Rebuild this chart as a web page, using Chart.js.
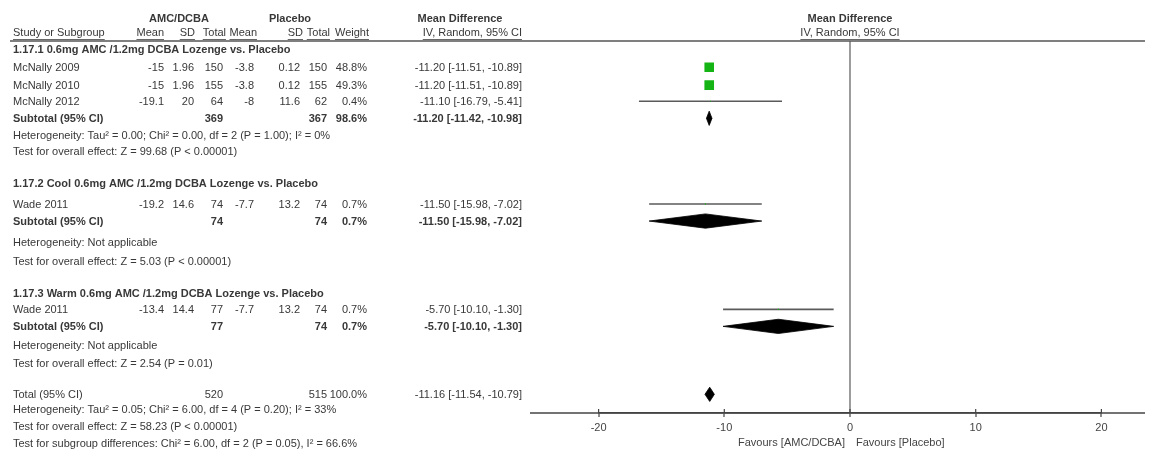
<!DOCTYPE html>
<html><head><meta charset="utf-8">
<script src="https://cdn.jsdelivr.net/npm/chart.js@4/dist/chart.umd.min.js"></script>
<style>html,body{margin:0;padding:0;background:#fff;}#wrap{width:1156px;height:459px;position:relative;}</style>
</head><body><div id="wrap"><canvas id="c" width="1156" height="459"></canvas></div>
<script>
// ---- data ----
const studyNames = ["McNally 2009", "McNally 2010", "McNally 2012", "Wade 2011", "Wade 2011"];
const amcMean = [-15, -15, -19.1, -19.2, -13.4];
const amcSD = [1.96, 1.96, 20, 14.6, 14.4];
const amcN = [150, 155, 64, 74, 77];
const plaMean = [-3.8, -3.8, -8, -7.7, -7.7];
const plaSD = [0.12, 0.12, 11.6, 13.2, 13.2];
const plaN = [150, 155, 62, 74, 74];
const studyWeight = [48.8, 49.3, 0.4, 0.7, 0.7];
const studyMD = [-11.20, -11.20, -11.10, -11.50, -5.70];
const studyLo = [-11.51, -11.51, -16.79, -15.98, -10.10];
const studyHi = [-10.89, -10.89, -5.41, -7.02, -1.30];
const studyRow = [1.55, 2.6, 3.55, 9.6, 15.8];

const pooledNames = ["Subtotal (95% CI)", "Subtotal (95% CI)", "Subtotal (95% CI)", "Total (95% CI)"];
const pooledAmcN = [369, 74, 77, 520];
const pooledPlaN = [367, 74, 74, 515];
const pooledWeight = [98.6, 0.7, 0.7, 100.0];
const pooledMD = [-11.20, -11.50, -5.70, -11.16];
const pooledLo = [-11.42, -15.98, -10.10, -11.54];
const pooledHi = [-10.98, -7.02, -1.30, -10.79];
const pooledRow = [4.55, 10.6, 16.8, 20.8];
const pooledBold = [true, true, true, false];

const groupTitles = ["1.17.1 0.6mg AMC /1.2mg DCBA Lozenge vs. Placebo",
  "1.17.2 Cool 0.6mg AMC /1.2mg DCBA Lozenge vs. Placebo",
  "1.17.3 Warm 0.6mg AMC /1.2mg DCBA Lozenge vs. Placebo"];
const groupRow = [0.55, 8.4, 14.9];

const notes = ["Heterogeneity: Tau\u00b2 = 0.00; Chi\u00b2 = 0.00, df = 2 (P = 1.00); I\u00b2 = 0%",
  "Test for overall effect: Z = 99.68 (P < 0.00001)",
  "Heterogeneity: Not applicable",
  "Test for overall effect: Z = 5.03 (P < 0.00001)",
  "Heterogeneity: Not applicable",
  "Test for overall effect: Z = 2.54 (P = 0.01)",
  "Heterogeneity: Tau\u00b2 = 0.05; Chi\u00b2 = 6.00, df = 4 (P = 0.20); I\u00b2 = 33%",
  "Test for overall effect: Z = 58.23 (P < 0.00001)",
  "Test for subgroup differences: Chi\u00b2 = 6.00, df = 2 (P = 0.05), I\u00b2 = 66.6%"];
const noteRow = [5.6, 6.55, 11.9, 13.0, 17.95, 19.0, 21.7, 22.7, 23.75];

const xTicks = [-20, -10, 0, 10, 20];
const favourLabels = ["Favours [AMC/DCBA]", "Favours [Placebo]"];
const colHeaders = ["Study or Subgroup", "Mean", "SD", "Total", "Mean", "SD", "Total", "Weight", "IV, Random, 95% CI"];
const groupHeaders = ["AMC/DCBA", "Placebo", "Mean Difference"];
const plotHeaders = ["Mean Difference", "IV, Random, 95% CI"];

// ---- layout (pixels) ----
const FONT = '"Liberation Sans", Arial, sans-serif';
const FS = 11;
const TXT = '#383838';
const colRight = [null, 164, 194, 223, 254, 300, 327, 367, 522];
const headRight = [null, 164, 195, 226, 257, 303, 330, 369, 522];
const LABEL_X = 13;

function ci(md, lo, hi) { return md.toFixed(2) + ' [' + lo.toFixed(2) + ', ' + hi.toFixed(2) + ']'; }

const datasets = [];
studyMD.forEach((m, i) => {
  datasets.push({ type: 'line', data: [{x: studyLo[i], y: studyRow[i]}, {x: studyHi[i], y: studyRow[i]}],
    borderColor: '#5a5a5a', borderWidth: 1.6, pointRadius: 0, fill: false, order: 3 });
});
datasets.push({ type: 'scatter', data: studyMD.map((m, i) => ({x: m, y: studyRow[i]})),
  pointStyle: 'rect', backgroundColor: '#14b414', borderWidth: 0,
  pointRadius: ctx => 6.8 * Math.sqrt(studyWeight[ctx.dataIndex] / 49.3), order: 1 });
const DH = 0.42;
pooledMD.forEach((m, i) => {
  const r = pooledRow[i];
  datasets.push({ type: 'line', data: [{x: pooledLo[i], y: r}, {x: m, y: r - DH}, {x: pooledHi[i], y: r}, {x: m, y: r + DH}, {x: pooledLo[i], y: r}],
    borderColor: '#000', borderWidth: 0.8, backgroundColor: '#000', pointRadius: 0, fill: 'shape', tension: 0, order: 2 });
});

const textPlugin = {
  id: 'forestText',
  afterDraw(chart) {
    const ctx = chart.ctx, xs = chart.scales.x, ys = chart.scales.y;
    const Y = r => ys.getPixelForValue(r);
    const top = chart.chartArea.top, bottom = chart.chartArea.bottom;
    ctx.save();
    ctx.strokeStyle = '#555'; ctx.lineWidth = 1.6;
    ctx.beginPath(); ctx.moveTo(10, top); ctx.lineTo(1145, top); ctx.stroke();
    ctx.strokeStyle = '#444'; ctx.lineWidth = 1.5;
    ctx.beginPath(); ctx.moveTo(530, bottom); ctx.lineTo(1145, bottom); ctx.stroke();
    ctx.lineWidth = 1.2;
    xTicks.forEach(v => { const px = xs.getPixelForValue(v); ctx.beginPath(); ctx.moveTo(px, bottom - 4); ctx.lineTo(px, bottom); ctx.stroke(); });

    ctx.fillStyle = TXT; ctx.textBaseline = 'middle';
    const put = (t, x, y, align, bold) => {
      ctx.font = (bold ? 'bold ' : '') + FS + 'px ' + FONT;
      ctx.textAlign = align; ctx.fillText(t, x, y);
    };
    const underline = (t, x, y, align) => {
      const w = ctx.measureText(t).width;
      const x0 = align === 'right' ? x - w : align === 'center' ? x - w / 2 : x;
      ctx.strokeStyle = '#666'; ctx.lineWidth = 1;
      ctx.beginPath(); ctx.moveTo(x0, y + 6.5); ctx.lineTo(x0 + w, y + 6.5); ctx.stroke();
    };
    const h1 = Y(-1.3), h2 = Y(-0.47);
    put(groupHeaders[0], 179, h1, 'center', true);
    put(groupHeaders[1], 290, h1, 'center', true);
    put(groupHeaders[2], 460, h1, 'center', true);
    colHeaders.forEach((t, i) => {
      if (i === 0) { put(t, LABEL_X, h2, 'left', false); underline(t, LABEL_X, h2, 'left'); }
      else { put(t, headRight[i], h2, 'right', false); underline(t, headRight[i], h2, 'right'); }
    });
    const x0 = xs.getPixelForValue(0);
    put(plotHeaders[0], x0, h1, 'center', true);
    put(plotHeaders[1], x0, h2, 'center', false); underline(plotHeaders[1], x0, h2, 'center');

    groupTitles.forEach((t, i) => put(t, LABEL_X, Y(groupRow[i]), 'left', true));
    studyNames.forEach((n, i) => {
      const y = Y(studyRow[i]) + 1;
      put(n, LABEL_X, y, 'left', false);
      const vals = [String(amcMean[i]), String(amcSD[i]), String(amcN[i]), String(plaMean[i]), String(plaSD[i]), String(plaN[i]),
        studyWeight[i].toFixed(1) + '%', ci(studyMD[i], studyLo[i], studyHi[i])];
      vals.forEach((v, j) => put(v, colRight[j + 1], y, 'right', false));
    });
    pooledNames.forEach((n, i) => {
      const y = Y(pooledRow[i]) + 1, b = pooledBold[i];
      put(n, LABEL_X, y, 'left', b);
      put(String(pooledAmcN[i]), colRight[3], y, 'right', b);
      put(String(pooledPlaN[i]), colRight[6], y, 'right', b);
      put(pooledWeight[i].toFixed(1) + '%', colRight[7], y, 'right', b);
      put(ci(pooledMD[i], pooledLo[i], pooledHi[i]), colRight[8], y, 'right', b);
    });
    notes.forEach((t, i) => put(t, LABEL_X, Y(noteRow[i]), 'left', false));
    const fy = bottom + 30;
    ctx.fillStyle = '#444';
    put(favourLabels[0], x0 - 5, fy, 'right', false);
    put(favourLabels[1], x0 + 6, fy, 'left', false);
    ctx.restore();
  }
};

new Chart(document.getElementById('c'), {
  type: 'scatter',
  data: { datasets },
  options: {
    responsive: false, animation: false, devicePixelRatio: 1,
    layout: { padding: { left: 598.6, right: 54.6, top: 41, bottom: 21 } },
    plugins: { legend: { display: false }, tooltip: { enabled: false } },
    scales: {
      x: {
        type: 'linear', min: -20, max: 20, position: 'bottom',
        afterBuildTicks: s => { s.ticks = xTicks.map(v => ({ value: v })); },
        afterFit: s => { s.height = 25; },
        ticks: { color: '#444', font: { family: FONT, size: 11 }, padding: 4, maxRotation: 0 },
        grid: { drawOnChartArea: true, drawTicks: true, tickLength: 4, tickColor: '#444', tickWidth: 1.2,
          color: c => (c.tick && c.tick.value === 0) ? '#9c9c9c' : 'rgba(0,0,0,0)', lineWidth: 2 },
        border: { display: true, color: '#444', width: 1.5 }
      },
      y: { type: 'linear', min: 0, max: 21.9, reverse: true, display: false }
    }
  },
  plugins: [textPlugin]
});
</script></body></html>
